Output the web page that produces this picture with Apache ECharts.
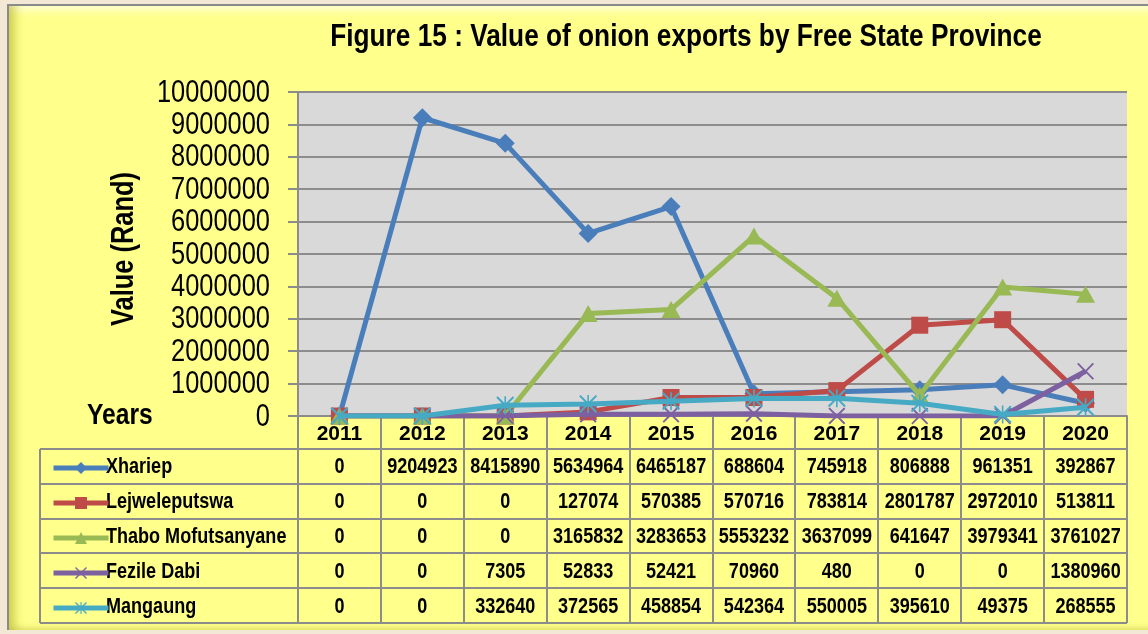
<!DOCTYPE html>
<html><head><meta charset="utf-8">
<script src="https://cdn.jsdelivr.net/npm/echarts@6/dist/echarts.min.js"></script>
<style>
html,body{margin:0;padding:0;background:#F3E8D6;width:1148px;height:634px;overflow:hidden;}
#panel{position:absolute;left:7px;top:4px;width:1148px;height:624px;background:#FFFF8C;border-left:2px solid #8a8a8a;border-top:2px solid #8a8a8a;
box-shadow: inset 14px 0 10px -8px rgba(170,170,40,0.55), inset 0 12px 8px -8px rgba(255,255,230,0.9), inset 0 -6px 6px -4px rgba(190,190,60,0.5);}
#chart{position:absolute;left:0;top:0;width:1148px;height:634px;}
</style></head>
<body>
<div id="panel"></div>
<div id="chart"></div>
<script>
var years = ['2011','2012','2013','2014','2015','2016','2017','2018','2019','2020'];
var seriesNames = ['Xhariep','Lejweleputswa','Thabo Mofutsanyane','Fezile Dabi','Mangaung'];
var xhariep = [0, 9204923, 8415890, 5634964, 6465187, 688604, 745918, 806888, 961351, 392867];
var lejweleputswa = [0, 0, 0, 127074, 570385, 570716, 783814, 2801787, 2972010, 513811];
var thaboMofutsanyane = [0, 0, 0, 3165832, 3283653, 5553232, 3637099, 641647, 3979341, 3761027];
var fezileDabi = [0, 0, 7305, 52833, 52421, 70960, 480, 0, 0, 1380960];
var mangaung = [0, 0, 332640, 372565, 458854, 542364, 550005, 395610, 49375, 268555];
var yTicks = {min: 0, max: 10000000, interval: 1000000};
var titleText = 'Figure 15 : Value of onion exports by Free State Province';
var yName = 'Value (Rand)';
var xName = 'Years';

var allData = [xhariep, lejweleputswa, thaboMofutsanyane, fezileDabi, mangaung];
var colors = ['#4A7EBB', '#BE4B48', '#98B954', '#7D60A0', '#46AAC5'];
var X_PATH = 'path://M0,1.6 L1.6,0 L10,8.4 L18.4,0 L20,1.6 L11.6,10 L20,18.4 L18.4,20 L10,11.6 L1.6,20 L0,18.4 L8.4,10 Z';
var STAR_PATH = 'path://M0,1.6 L1.6,0 L10,8.4 L18.4,0 L20,1.6 L11.6,10 L20,18.4 L18.4,20 L10,11.6 L1.6,20 L0,18.4 L8.4,10 Z M9.1,0 L10.9,0 L10.9,20 L9.1,20 Z';
var symbols = ['diamond', 'rect', 'triangle', X_PATH, STAR_PATH];
var symbolSizes = [[19,19],[17,17],[19,17],[17,17],[18,18]];

var FONT = '"Liberation Sans Narrow", "Arial Narrow", "Liberation Sans", Arial, sans-serif';
var SQ = 0.82; // horizontal squeeze to mimic a narrow face
var GRAY = '#8c8c8c';
var chart = echarts.init(document.getElementById('chart'), null, {renderer:'canvas'});

var series = seriesNames.map(function(n, i){
  return {
    name: n, type: 'line', data: allData[i],
    symbol: symbols[i], symbolSize: symbolSizes[i], showAllSymbol: true,
    lineStyle: {width: 5, color: colors[i]},
    itemStyle: {color: colors[i], borderWidth: 0},
    emphasis: {disabled: true}, animation: false, z: 3 + i
  };
});

var option = {
  animation: false,
  backgroundColor: 'transparent',
  grid: {left: 298, right: 21, top: 92, bottom: 218, show: true, backgroundColor: '#D9D9D9', borderWidth: 0},
  legend: {orient: 'vertical', left: 46, top: 452, itemWidth: 55, itemHeight: 15, itemGap: 13,
    data: seriesNames, selectedMode: false,
    formatter: function(){ return ' '; },
    lineStyle: {width: 5},
    textStyle: {fontFamily: FONT, fontSize: 22, lineHeight: 22, color: '#000'}},
  xAxis: {type: 'category', data: years, boundaryGap: true,
    axisLine: {lineStyle: {color: GRAY, width: 2}},
    axisTick: {show: false},
    axisLabel: {fontFamily: FONT, fontWeight: 'bold', fontSize: 21, color: '#000', margin: 8},
    splitLine: {show: false}},
  yAxis: {type: 'value', min: yTicks.min, max: yTicks.max, interval: yTicks.interval,
    axisLine: {show: true, lineStyle: {color: GRAY, width: 2}},
    axisTick: {show: true, length: 10, lineStyle: {color: GRAY, width: 2}},
    axisLabel: {show: false},
    splitLine: {show: true, lineStyle: {color: GRAY, width: 2}}},
  series: series
};
chart.setOption(option);

var x0 = chart.convertToPixel({xAxisIndex: 0}, 0);
var x1 = chart.convertToPixel({xAxisIndex: 0}, 1);
var bw = x1 - x0;
var plotLeft = x0 - bw / 2;
var plotRight = plotLeft + bw * years.length;
var yBase = chart.convertToPixel({yAxisIndex: 0}, 0);
var headerBottom = yBase + 33;
var rowH = 34.8;
var tableLeft = 40;
var els = [];
function ln(xa, ya, xb, yb){
  els.push({type: 'line', shape: {x1: xa, y1: ya, x2: xb, y2: yb}, style: {stroke: GRAY, lineWidth: 2}, z: 1, silent: true});
}
function txt(s, x, y, size, align, weight, rot, sq){
  els.push({type: 'text', x: x, y: y, scaleX: sq || SQ, rotation: rot || 0, silent: true, z: 2,
    style: {text: s, fontFamily: FONT, fontWeight: weight || 'bold', fontSize: size, fill: '#000', align: align, verticalAlign: 'middle'}});
}
// y tick labels placed through the value axis
for (var v = yTicks.min; v <= yTicks.max; v += yTicks.interval) {
  txt(String(v), 270, chart.convertToPixel({yAxisIndex: 0}, v) + 1, 31, 'right', 'normal');
}
for (var r = 0; r <= seriesNames.length; r++) {
  var yy = Math.round(headerBottom + r * rowH);
  ln(tableLeft, yy, plotRight, yy);
}
var tableBottom = Math.round(headerBottom + seriesNames.length * rowH);
ln(tableLeft, Math.round(headerBottom), tableLeft, tableBottom);
for (var c = 0; c <= years.length; c++) {
  var xx = Math.round(plotLeft + c * bw);
  ln(xx, yBase, xx, tableBottom);
}
allData.forEach(function(arr, r){
  var cy = headerBottom + (r + 0.5) * rowH + 1;
  txt(seriesNames[r], 106, cy, 22, 'left');
  arr.forEach(function(val, c){
    txt(String(val), chart.convertToPixel({xAxisIndex: 0}, c), cy, 22, 'center');
  });
});
txt(titleText, 686, 37, 32, 'center');
txt(yName, 124, 249, 31, 'center', 'bold', Math.PI / 2);
txt(xName, 87, 416, 30, 'left');
chart.setOption({graphic: {elements: els}});
</script>
</body></html>
